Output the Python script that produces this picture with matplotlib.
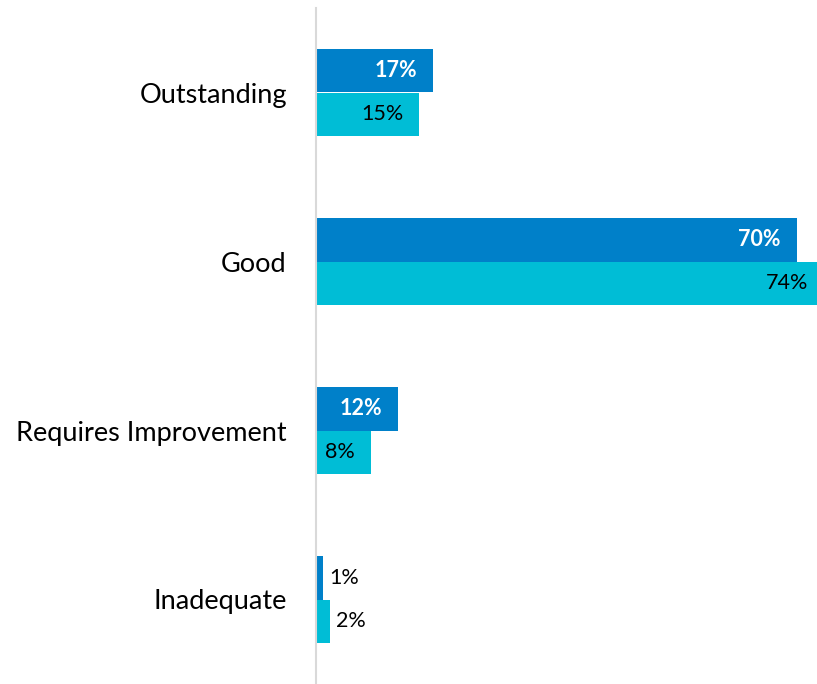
import numpy as np
import matplotlib.pyplot as plt

plt.rcParams['font.family'] = ['Lato', 'DejaVu Sans']

# --- data ---
categories = ['Outstanding', 'Good', 'Requires Improvement', 'Inadequate']
series_a = [17, 70, 12, 1]   # dark blue
series_b = [15, 74, 8, 2]    # cyan

col_a = '#0080C9'
col_b = '#00BDD6'

fig = plt.figure(figsize=(8.17, 6.84), dpi=100)
ax = fig.add_axes([316 / 817, 0, 1 - 316 / 817, 676 / 684])

y = np.arange(len(categories))
h = 0.26
bars_a = ax.barh(y - h / 2, series_a, height=h, color=col_a)
bars_b = ax.barh(y + h / 2, series_b, height=h, color=col_b)

ax.set_xlim(0, (817 - 316) / 6.87)
ax.set_ylim(3.5, -0.5)

# value labels
for bars, vals, inside_col, weight in [(bars_a, series_a, 'white', 'bold'),
                                        (bars_b, series_b, 'black', 'normal')]:
    for b, v in zip(bars, vals):
        yc = b.get_y() + b.get_height() / 2
        if v >= 5:
            ax.annotate(f'{v}%', (v, yc), xytext=(-11.5, 0), textcoords='offset points',
                        ha='right', va='center', color=inside_col,
                        fontsize=15.5, fontweight=weight, annotation_clip=False)
        else:
            ax.annotate(f'{v}%', (v, yc), xytext=(4.5, 0), textcoords='offset points',
                        ha='left', va='center', color='black', fontsize=15.5)

ax.set_yticks(y)
ax.set_yticklabels(categories, fontsize=19.5)
ax.tick_params(axis='y', length=0, pad=21)
ax.set_xticks([])

for s in ['top', 'right', 'bottom']:
    ax.spines[s].set_visible(False)
ax.spines['left'].set_color('#D9D9D9')
ax.spines['left'].set_linewidth(1.5)

fig.savefig('out.png', dpi=100)
